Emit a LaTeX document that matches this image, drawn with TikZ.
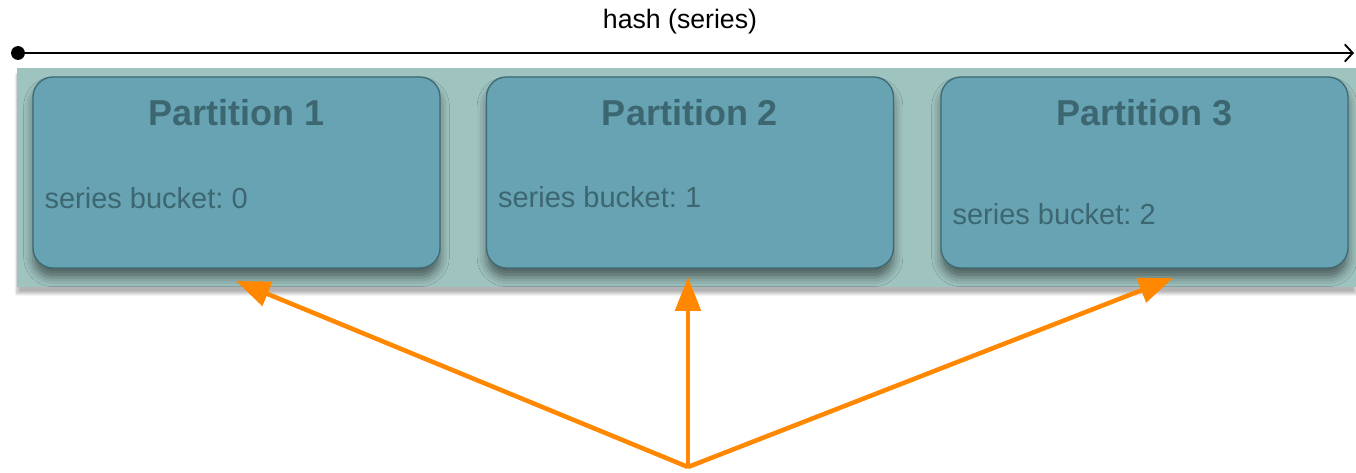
\documentclass[tikz,border=0pt]{standalone}
\usepackage{fontspec}
\setmainfont{Liberation Sans}
\usetikzlibrary{arrows.meta,calc,shadows.blur}
\definecolor{bandcol}{HTML}{9FC4C0}
\definecolor{boxfill}{HTML}{68A3B4}
\definecolor{boxline}{HTML}{3E6A74}
\definecolor{txtcol}{HTML}{3C6770}
\definecolor{orangec}{HTML}{FF8800}
\tikzset{
  band/.style={fill=bandcol, draw=none, minimum width=1004.25pt, minimum height=164.25pt, inner sep=0pt,
     blur shadow={shadow xshift=0pt, shadow yshift=-5pt, shadow blur steps=8, shadow opacity=30}},
  partbox/.style={fill=boxfill, draw=boxline, line width=1pt, rounded corners=15pt,
     minimum width=305.25pt, minimum height=143.25pt, inner sep=0pt,
     blur shadow={shadow xshift=0pt, shadow yshift=-7pt, shadow blur radius=7pt, shadow opacity=50}},
  parttitle/.style={text=txtcol, font=\fontsize{27pt}{30pt}\selectfont\bfseries, inner sep=0pt},
  parttext/.style={text=txtcol, font=\fontsize{21.75pt}{24pt}\selectfont, inner sep=0pt, anchor=west},
  hashlbl/.style={text=black, font=\fontsize{20pt}{23pt}\selectfont, inner sep=0pt},
  orangearrow/.style={draw=orangec, line width=3.4pt, -{Triangle[length=25.5pt,width=19pt]}},
  hashline/.style={draw=black, line width=1.8pt, -{Straight Barb[length=6pt,width=13pt,line width=1.4pt]}}
}
\frenchspacing
\begin{document}
\begin{tikzpicture}[x=0.75pt,y=-0.75pt]
\useasboundingbox (0,0) rectangle (1356,473);
% hash axis
\coordinate (hstart) at (18,53);
\coordinate (hend) at (1354,53);
\draw[hashline] (hstart) -- (hend);
\fill[black] (hstart) circle (5.2pt);
\node[hashlbl] (hashlabel) at (680,22) {hash (series)};
% band
\node[band] (bandbox) at (686.5,177.5) {};
% partitions
\node[partbox] (p1) at (236.5,172.5) {};
\node[partbox] (p2) at (690,172.5) {};
\node[partbox] (p3) at (1144.5,172.5) {};
\node[parttitle] (t1) at ($(p1.center)+(0,-59.5)$) {Partition 1};
\node[parttitle] (t2) at ($(p2.center)+(0,-59.5)$) {Partition 2};
\node[parttitle] (t3) at ($(p3.center)+(0,-59.5)$) {Partition 3};
\node[parttext] (s1) at ($(p1.west)+(12,25.5)$) {series bucket: 0};
\node[parttext] (s2) at ($(p2.west)+(12,25)$) {series bucket: 1};
\node[parttext] (s3) at ($(p3.west)+(12,41.5)$) {series bucket: 2};
% orange arrows
\coordinate (src) at (688,467);
\coordinate (tip1) at (236,281);
\coordinate (tip2) at (688,277);
\coordinate (tip3) at (1173,278);
\draw[orangearrow] (src) -- (tip1);
\draw[orangearrow] (src) -- (tip2);
\draw[orangearrow] (src) -- (tip3);
\end{tikzpicture}
\end{document}
